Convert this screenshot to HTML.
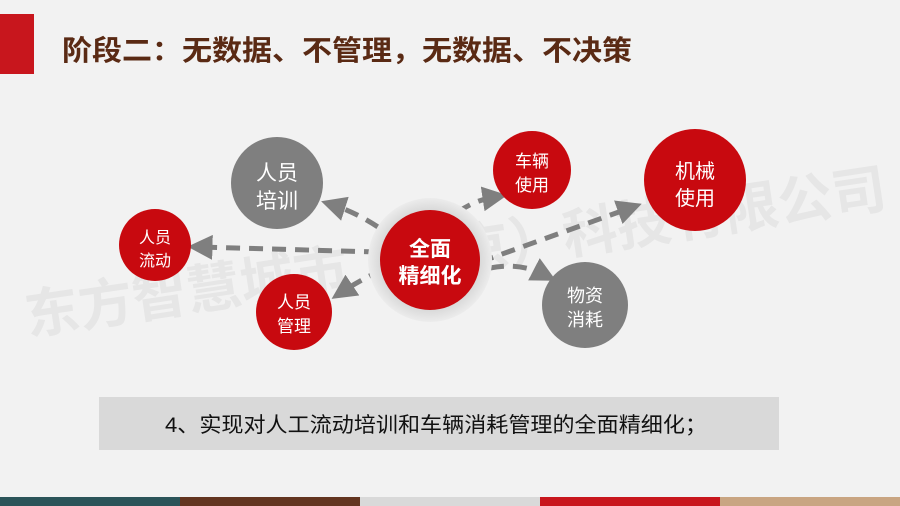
<!DOCTYPE html>
<html><head><meta charset="utf-8"><style>
html,body{margin:0;padding:0;}
body{width:900px;height:506px;background:#f2f2f2;overflow:hidden;position:relative;font-family:"Liberation Sans","Noto Sans CJK SC",sans-serif;}
</style></head><body>
<svg width="900" height="506" viewBox="0 0 900 506" xmlns="http://www.w3.org/2000/svg" style="position:absolute;left:0;top:0">
<defs>
<marker id="ah" markerWidth="5" markerHeight="5" refX="2.5" refY="2.5" orient="auto" markerUnits="strokeWidth">
<path d="M0,0 L5,2.5 L0,5 z" fill="#7f7f7f"/></marker>
<radialGradient id="halo" cx="50%" cy="50%" r="50%">
<stop offset="80%" stop-color="#d9d9d9"/><stop offset="100%" stop-color="#ececec"/></radialGradient>
</defs>
<rect x="0" y="14" width="34" height="60" fill="#c8161d"/>
<text x="62" y="60" font-family="Liberation Sans, Noto Sans CJK SC, sans-serif" font-size="28" font-weight="bold" fill="#5a2a14" textLength="570" lengthAdjust="spacingAndGlyphs">阶段二：无数据、不管理，无数据、不决策</text>
<text x="28" y="335" transform="rotate(-8.5 28 335)" font-family="Liberation Sans, Noto Sans CJK SC, sans-serif" font-size="54" font-weight="bold" fill="#e6e6e6" textLength="870" lengthAdjust="spacingAndGlyphs">东方智慧城市（北京）科技有限公司</text>
<g fill="none" stroke="#7f7f7f" stroke-width="5" stroke-dasharray="14,9">
<path d="M378,227 Q355,212 333,205" marker-end="url(#ah)"/>
<path d="M378,252 L200,247" marker-end="url(#ah)"/>
<path d="M382,270 Q360,280 342,292" marker-end="url(#ah)"/>
<path d="M458,212 Q475,200 495,197" marker-end="url(#ah)"/>
<path d="M480,262 L630,208" marker-end="url(#ah)"/>
<path d="M490,268 Q520,262 545,275" marker-end="url(#ah)"/>
</g>
<circle cx="430" cy="260" r="62" fill="url(#halo)"/>
<circle cx="430" cy="260" r="50" fill="#c8090f"/>
<circle cx="277" cy="183" r="46" fill="#7f7f7f"/>
<circle cx="155" cy="245" r="36" fill="#c8090f"/>
<circle cx="294" cy="312" r="38" fill="#c8090f"/>
<circle cx="532" cy="170" r="39" fill="#c8090f"/>
<circle cx="695" cy="180" r="51" fill="#c8090f"/>
<circle cx="585" cy="305" r="43" fill="#7f7f7f"/>
<g fill="#fff" font-family="Liberation Sans, Noto Sans CJK SC, sans-serif" text-anchor="middle">
<text x="277" y="180" font-size="21">人员</text><text x="277" y="208" font-size="21">培训</text>
<text x="155" y="243" font-size="16">人员</text><text x="155" y="266" font-size="16">流动</text>
<text x="294" y="308" font-size="17">人员</text><text x="294" y="332" font-size="17">管理</text>
<text x="430" y="256" font-size="21" font-weight="bold">全面</text><text x="430" y="283" font-size="21" font-weight="bold">精细化</text>
<text x="532" y="167" font-size="17">车辆</text><text x="532" y="191" font-size="17">使用</text>
<text x="695" y="178" font-size="20">机械</text><text x="695" y="205" font-size="20">使用</text>
<text x="585" y="302" font-size="18">物资</text><text x="585" y="326" font-size="18">消耗</text>
</g>
<rect x="99" y="397" width="680" height="53" fill="#d9d9d9"/>
<text x="436" y="432" text-anchor="middle" font-family="Liberation Sans, Noto Sans CJK SC, sans-serif" font-size="21" fill="#111" textLength="542" lengthAdjust="spacingAndGlyphs">4、实现对人工流动培训和车辆消耗管理的全面精细化；</text>
<rect x="0" y="497" width="180" height="9" fill="#2b5459"/>
<rect x="180" y="497" width="180" height="9" fill="#633520"/>
<rect x="360" y="497" width="180" height="9" fill="#d9d9d9"/>
<rect x="540" y="497" width="180" height="9" fill="#c8161d"/>
<rect x="720" y="497" width="180" height="9" fill="#c9a582"/>
</svg>
</body></html>
